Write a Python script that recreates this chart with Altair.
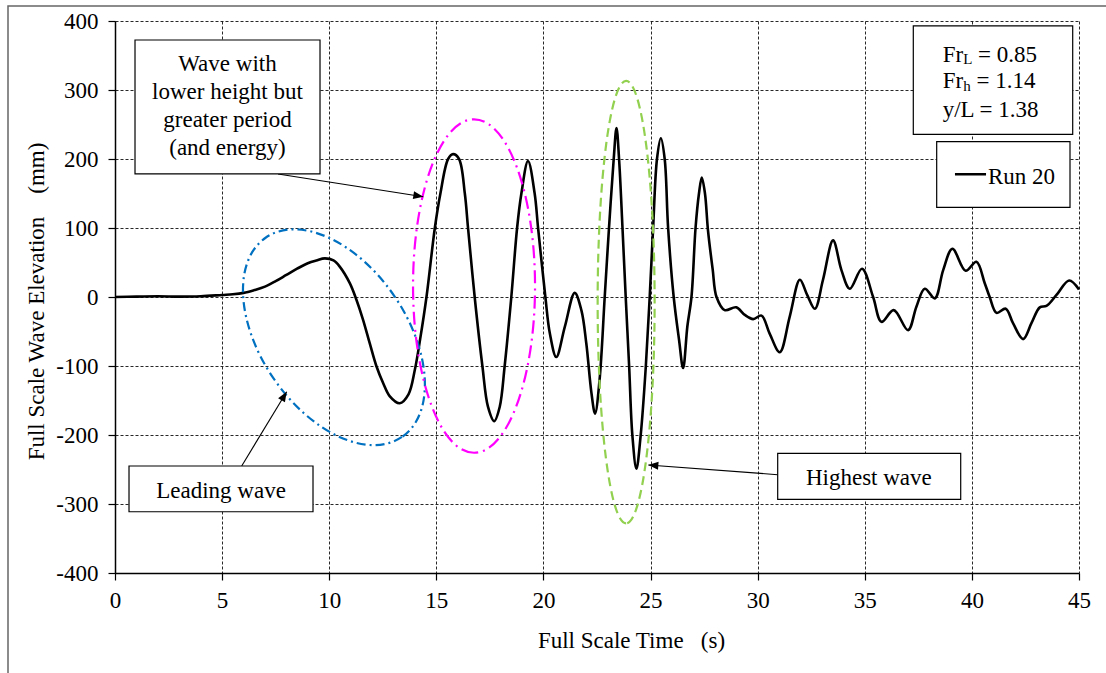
import math
import altair as alt
import pandas as pd

# ---------------- data ----------------
time_s = [0, 1, 2, 3, 4, 5, 5.5, 6, 6.5, 7,
          7.5, 8, 8.5, 9, 9.4, 9.8, 10.2, 10.49, 10.96, 11.27,
          11.58, 11.89, 12.2, 12.52, 12.83, 13.29, 13.7, 14.0, 14.25, 14.54,
          14.93, 15.19, 15.55, 15.78, 16.06, 16.33, 16.48, 16.79,
          17.15, 17.41, 17.7, 17.96, 18.19, 18.5, 18.77, 18.97, 19.28, 19.59,
          19.75, 20.09, 20.3, 20.6, 21.0, 21.46, 21.77, 22.0, 22.24, 22.41,
          22.62, 22.86, 23.06, 23.28, 23.41, 23.53, 23.69, 23.84, 24.0, 24.15,
          24.34, 24.54, 24.78, 24.96, 25.12, 25.3, 25.48, 25.66, 25.82, 26.08,
          26.33, 26.52, 26.72, 26.91, 27.1, 27.26, 27.39, 27.54, 27.68, 27.9,
          28.08, 28.46, 29.0, 29.4, 29.79, 30.18, 30.56, 31.03, 31.5, 31.97,
          32.31, 32.67, 33.05, 33.52, 33.91, 34.3, 34.87, 35.39, 35.78, 36.35,
          37.02, 37.41, 37.8, 38.27, 38.66, 39.09, 39.71, 40.21, 40.6, 40.83,
          41.15, 41.58, 41.92, 42.39, 42.78, 43.17, 43.48, 43.95, 44.54, 45.0]
elevation_mm = [0, 0.5, 1, 0.5, 1, 3, 4, 6, 10, 15,
                23, 32, 41, 49, 53, 56, 53, 44, 20, -4,
                -33, -67, -100, -125, -144, -154, -141, -105, -60, 0,
                100, 150, 200, 207, 200, 150, 100, 0,
                -100, -159, -180, -159, -100, 0, 100, 150, 197, 150,
                100, 0, -53, -87, -43, 6, -19, -67, -139, -169,
                -120, 0, 100, 200, 245, 200, 100, 0, -100, -200,
                -249, -200, -100, 0, 100, 200, 230, 200, 100, 0,
                -62, -103, -42, 0, 100, 150, 173, 150, 97, 40,
                0, -19, -15, -26, -32, -27, -53, -80, -28, 25,
                3, -17, 25, 82, 39, 12, 41, 0, -36, -19,
                -48, -14, 12, -2, 39, 70, 38, 51, 20, 0,
                -23, -17, -38, -61, -38, -15, -13, 3, 24, 11]

x_ticks = [0, 5, 10, 15, 20, 25, 30, 35, 40, 45]
y_ticks = [-400, -300, -200, -100, 0, 100, 200, 300, 400]
series_name = "Run 20"
x_title = "Full Scale Time\u00a0\u00a0\u00a0(s)"
y_title = "Full Scale Wave Elevation\u00a0\u00a0\u00a0\u00a0(mm)"

# annotation boxes (data units: t0, t1, y0, y1)
box_t0 = [0.934, 0.654, 30.935, 37.265, 38.357]
box_t1 = [9.570, 9.243, 39.478, 44.706, 44.580]
box_y0 = [372.5, -244.9, -226.5, 392.8, 225.1]
box_y1 = [178.3, -311.2, -293.2, 235.8, 130.0]

# centred annotation text
note_text = ["Wave with", "lower height but", "greater period", "(and energy)",
             "Leading wave", "Highest wave"]
note_t = [5.25, 5.25, 5.25, 5.25, 4.95, 35.19]
note_y = [327.5, 287.0, 246.4, 205.8, -291.7, -272.5]

# arrows: tail -> head
arrow_t0 = [7.609, 5.914, 30.935]
arrow_y0 = [178.3, -244.9, -257.5]
arrow_t1 = [14.392, 8.015, 24.895]
arrow_y1 = [145.4, -137.2, -243.5]

# ellipses highlighting waves (centre in data units)
ell_t = [10.22, 16.76, 23.86]
ell_y = [-58.3, 15.9, -7.5]

# ---------------- layout ----------------
W, H = 964, 552
PX_T = W / 45.0
PX_Y = H / 800.0
FONT = "Liberation Serif"
FS = 23

xs = alt.Scale(domain=[0, 45], nice=False, zero=False)
ys = alt.Scale(domain=[-400, 400], nice=False, zero=False)

common_axis = dict(labelFont=FONT, labelFontSize=FS, labelColor="black",
                   titleFont=FONT, titleFontSize=FS, titleFontWeight="normal",
                   titleColor="black", tickSize=7, tickColor="black", tickWidth=1.2,
                   domainColor="black", domainWidth=1.5, grid=True,
                   gridColor="#111111", gridOpacity=0.9, gridDash=[3, 2],
                   gridWidth=1, labelFlush=False, labelOverlap=False,
                   labelExpr="'' + datum.value")

df = pd.DataFrame({"t": time_s, "y": elevation_mm})

curve = alt.Chart(df).mark_line(color="black", strokeWidth=2.6,
                                interpolate="catmull-rom").encode(
    x=alt.X("t:Q", scale=xs,
            axis=alt.Axis(values=x_ticks, title=x_title, labelPadding=9,
                          titleX=516, titleY=74, titleBaseline="alphabetic",
                          **common_axis)),
    y=alt.Y("y:Q", scale=ys,
            axis=alt.Axis(values=y_ticks, title=y_title, labelPadding=10,
                          titleAngle=270, titleX=-72, titleY=280,
                          titleAlign="center", titleBaseline="alphabetic",
                          **common_axis)),
)


def ellipse_path(r):
    k = 0.5523
    return (f"M 1 0 C 1 {k*r:.4f} {k:.4f} {r:.4f} 0 {r:.4f} "
            f"C {-k:.4f} {r:.4f} -1 {k*r:.4f} -1 0 "
            f"C -1 {-k*r:.4f} {-k:.4f} {-r:.4f} 0 {-r:.4f} "
            f"C {k:.4f} {-r:.4f} 1 {-k*r:.4f} 1 0 Z")


ell_style = [
    dict(a=120.7, b=73.1, rot=55.7, color="#0070C0", dash=[9, 4, 2, 4]),
    dict(a=166.7, b=61.0, rot=90.0, color="#FF00FF", dash=[13, 5, 2, 5]),
    dict(a=221.2, b=28.5, rot=90.0, color="#92D050", dash=[9, 5]),
]
ellipses = []
for i, st in enumerate(ell_style):
    e = alt.Chart(pd.DataFrame({"t": [ell_t[i]], "y": [ell_y[i]]})).mark_point(
        shape=ellipse_path(st["b"] / st["a"]), size=(2 * st["a"]) ** 2,
        angle=st["rot"], filled=False, opacity=1, color=st["color"],
        strokeWidth=2.2, strokeDash=st["dash"]).encode(
        x=alt.X("t:Q", scale=xs), y=alt.Y("y:Q", scale=ys))
    ellipses.append(e)

# arrows
adf = pd.DataFrame({"t0": arrow_t0, "y0": arrow_y0, "t1": arrow_t1, "y1": arrow_y1})
adf["ang"] = [
    math.degrees(math.atan2((r.t1 - r.t0) * PX_T, (r.y1 - r.y0) * PX_Y)) % 360
    for r in adf.itertuples()
]
arrow_lines = alt.Chart(adf).mark_rule(color="black", strokeWidth=1.1).encode(
    x=alt.X("t0:Q", scale=xs), y=alt.Y("y0:Q", scale=ys),
    x2="t1:Q", y2="y1:Q")
arrow_heads = alt.Chart(adf).mark_point(
    shape="M 0 0 L 0.4 1 L -0.4 1 Z", size=400, filled=True, opacity=1,
    color="black").encode(
    x=alt.X("t1:Q", scale=xs), y=alt.Y("y1:Q", scale=ys),
    angle=alt.Angle("ang:Q", scale=None))

# boxes
bdf = pd.DataFrame({"t0": box_t0, "t1": box_t1, "y0": box_y0, "y1": box_y1})
boxes = alt.Chart(bdf).mark_rect(fill="white", stroke="black",
                                 strokeWidth=1.2).encode(
    x=alt.X("t0:Q", scale=xs), x2="t1:Q",
    y=alt.Y("y0:Q", scale=ys), y2="y1:Q")

# centred notes
ndf = pd.DataFrame({"t": note_t, "y": note_y, "text": note_text})
notes = alt.Chart(ndf).mark_text(font=FONT, fontSize=FS, color="black",
                                 align="center", baseline="alphabetic").encode(
    x=alt.X("t:Q", scale=xs), y=alt.Y("y:Q", scale=ys),
    text="text:N")

# parameter box with subscripts (left aligned pieces)
left_t = 38.638
fr_w = 0.889 * FS          # width of "Fr" in Times-metric font
sp_w = 0.25 * FS
sub_w_L = 0.611 * 15
sub_w_h = 0.500 * 15
pieces = [
    ("Fr", left_t, 341.0, FS),
    ("L", left_t + fr_w / PX_T, 337.8, 15),
    ("= 0.85", left_t + (fr_w + sub_w_L + sp_w) / PX_T, 341.0, FS),
    ("Fr", left_t, 302.5, FS),
    ("h", left_t + fr_w / PX_T, 298.8, 15),
    ("= 1.14", left_t + (fr_w + sub_w_h + sp_w) / PX_T, 302.5, FS),
    ("y/L = 1.38", left_t, 261.3, FS),
    (series_name, 40.75, 163.3, FS),
]
pdf = pd.DataFrame(pieces, columns=["text", "t", "y", "fs"])
param_text = alt.Chart(pdf).mark_text(font=FONT, color="black", align="left",
                                      baseline="alphabetic").encode(
    x=alt.X("t:Q", scale=xs), y=alt.Y("y:Q", scale=ys),
    text="text:N", size=alt.Size("fs:Q", scale=None))

# legend line sample
ldf = pd.DataFrame({"t0": [39.21], "t1": [40.66], "y": [177.8]})
legend_line = alt.Chart(ldf).mark_rule(color="black", strokeWidth=2.6).encode(
    x=alt.X("t0:Q", scale=xs), x2="t1:Q",
    y=alt.Y("y:Q", scale=ys))

# outer chart frame
frame = alt.Chart(pd.DataFrame({"a": [0]})).mark_rect(
    fill="transparent", stroke="#666666", strokeWidth=1.5).encode(
    x=alt.value(-107), x2=alt.value(1400), y=alt.value(-15), y2=alt.value(900))

chart = alt.layer(
    curve, *ellipses, arrow_lines, arrow_heads, boxes, notes, param_text,
    legend_line, frame
).properties(
    width=W, height=H,
    autosize=alt.AutoSizeParams(type="none"),
    padding={"left": 115, "top": 21, "right": 27, "bottom": 100},
    background="white",
).configure_view(stroke="transparent")

chart.save("out.html", embed_options={"renderer": "svg", "actions": False})
